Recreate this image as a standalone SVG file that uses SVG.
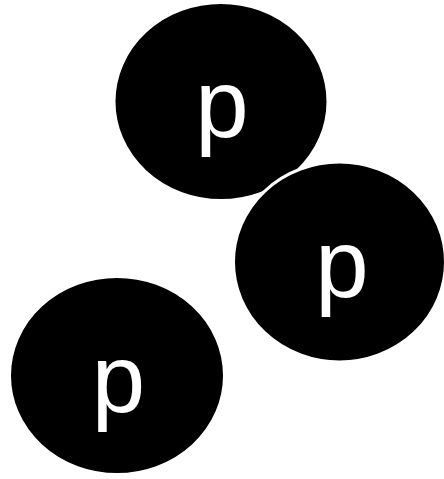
<svg xmlns="http://www.w3.org/2000/svg" width="444" height="479" viewBox="0 0 444 479">
<style>
.n{fill:#000;stroke:#fff;stroke-width:3}
.t{fill:#fff;font-family:"Liberation Sans",Arial,sans-serif;font-size:96px;text-anchor:middle}
</style>
<rect width="444" height="479" fill="#fff"/>
<g id="connectors"></g>
<g id="node1"><ellipse class="n" cx="221" cy="101.5" rx="107" ry="99"/><text class="t" x="222" y="137">p</text></g>
<g id="node2"><ellipse class="n" cx="339.5" cy="262" rx="106" ry="100"/><text class="t" x="342" y="297">p</text></g>
<g id="node3"><ellipse class="n" cx="117" cy="375.5" rx="107.5" ry="99"/><text class="t" x="118.5" y="412">p</text></g>
</svg>
